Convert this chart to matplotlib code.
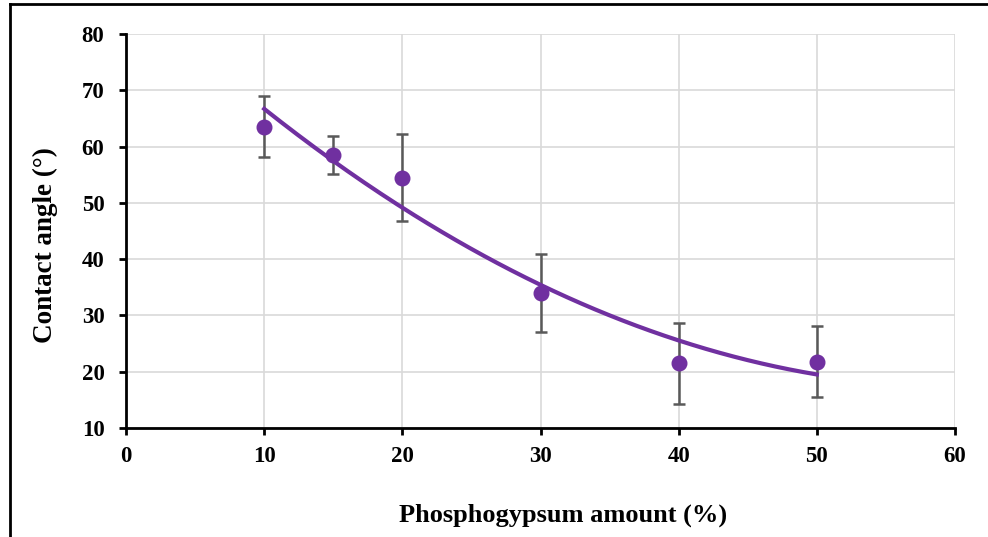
import numpy as np
import matplotlib.pyplot as plt
from matplotlib.lines import Line2D

# phosphogypsum amount (%) vs contact angle (deg)
amount = [10, 15, 20, 30, 40, 50]
angle = [63.5, 58.5, 54.5, 34.0, 21.5, 21.8]
angle_err = [5.4, 3.4, 7.8, 7.0, 7.2, 6.3]

purple = '#7030A0'
plt.rcParams['font.family'] = 'Liberation Serif'
plt.rcParams['font.weight'] = 'bold'

fig = plt.figure(figsize=(9.88, 5.37), dpi=100)
W, H = 988, 537
ax = fig.add_axes([126 / W, 1 - 428 / H, (955 - 126) / W, (428 - 34) / H])

# 2nd order polynomial trend line (Excel-style) fitted to the points
coef = np.polyfit(amount, angle, 2)
xs = np.linspace(min(amount), max(amount), 200)
ax.plot(xs, np.polyval(coef, xs), color=purple, lw=3, zorder=3)

ax.errorbar(amount, angle, yerr=angle_err, fmt='none', ecolor='#595959',
            elinewidth=1.8, capsize=4.3, capthick=1.8, zorder=2)
ax.plot(amount, angle, 'o', color=purple, ms=10.5, zorder=4)

ax.set_xlim(0, 60)
ax.set_ylim(10, 80)
ax.set_xticks(range(0, 61, 10))
ax.set_yticks(range(10, 81, 10))
ax.grid(True, color='#d9d9d9', lw=1.2)
ax.set_axisbelow(True)
for s in ['top', 'right']:
    ax.spines[s].set_visible(False)
for s in ['left', 'bottom']:
    ax.spines[s].set_linewidth(2)
    ax.spines[s].set_color('black')
ax.tick_params(direction='out', length=5, width=2, labelsize=16.5)
ax.tick_params(axis='x', pad=8)
ax.tick_params(axis='y', pad=10.5)
for lab in ax.get_xticklabels() + ax.get_yticklabels():
    lab.set_fontweight('bold')

fig.text(45 / W, 1 - 245 / H, 'Contact angle (°)', rotation=90, ha='center',
         va='center', fontsize=19.5, fontweight='bold')
fig.text(563 / W, 1 - 515 / H, 'Phosphogypsum amount (%)', ha='center',
         va='center', fontsize=19, fontweight='bold')

# outer frame (only left and top edges are visible in the crop)
fig.add_artist(Line2D([10 / W, 10 / W], [0, 1 - 4 / H], color='black', lw=2,
                      transform=fig.transFigure))
fig.add_artist(Line2D([10 / W, 1], [1 - 4 / H, 1 - 4 / H], color='black', lw=2,
                      transform=fig.transFigure))

fig.savefig('out.png', dpi=100)
